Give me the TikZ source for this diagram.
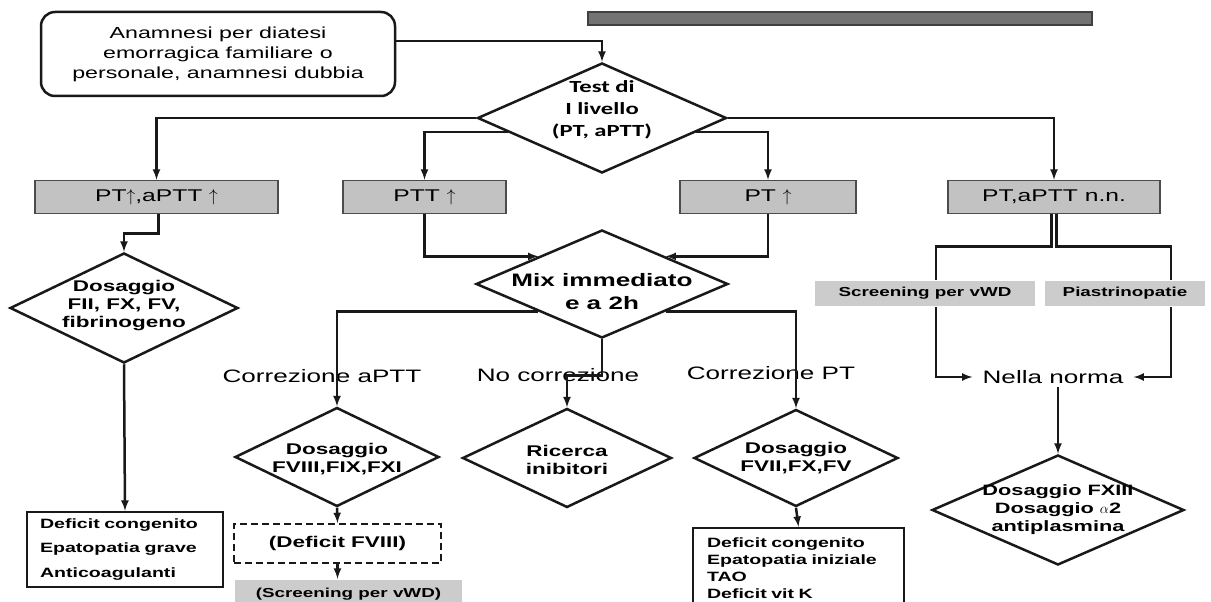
\documentclass[tikz,border=0pt]{standalone}
\usepackage{fontspec}
\setmainfont[FakeStretch=1.45]{Liberation Sans}
\newfontfamily\calfont[FakeStretch=1.45]{Carlito}
\usetikzlibrary{positioning,shapes.geometric,calc}

\begin{document}
\begin{tikzpicture}[x=1pt,y=-1pt,line width=2.5pt,draw=black!90,
  dia/.style={draw, shape=diamond, inner sep=0pt},
  dtxt/.style={font=\fontsize{15.5}{18}\selectfont\bfseries, align=center},
  gbox/.style={draw=black!70, fill=black!24, line width=1.5pt, inner sep=0pt, font=\fontsize{17}{20}\selectfont},
  lbox/.style={fill=black!20, inner sep=0pt, font=\fontsize{13}{15}\selectfont\bfseries},
  lab/.style={font=\fontsize{18}{20}\selectfont},
  res/.style={draw, align=left, font=\fontsize{13.5}{24.5}\selectfont\bfseries}]
	\useasboundingbox (0,0) rectangle (1211,602);
	\node[draw, rounded corners=14pt, align=center, minimum width=354pt, minimum height=84pt, font=\fontsize{16}{20}\selectfont] (anam) at (218,54) {Anamnesi per diatesi\\emorragica familiare o\\personale, anamnesi dubbia};
	\node[draw=black!75, fill=black!55, line width=1.5pt, minimum width=504pt, minimum height=13pt, inner sep=0pt] (bar) at (840,18.5) {};
	\node[dia, minimum width=249pt, minimum height=110pt, label={[dtxt, font=\fontsize{17}{22}\selectfont\calfont\bfseries, yshift=8pt]center:{Test di\\I livello\\(PT, aPTT)}}] (test) at (602,118) {};
	\node[gbox, minimum width=243pt, minimum height=33pt] (ptapt) at (156.5,197) {PT$\uparrow$,aPTT $\uparrow$};
	\node[gbox, minimum width=163pt, minimum height=33pt] (ptt) at (424.5,197) {PTT $\uparrow$};
	\node[gbox, minimum width=176pt, minimum height=33pt] (pt) at (768,197) {PT $\uparrow$};
	\node[gbox, minimum width=212pt, minimum height=33pt] (nn) at (1054,197) {PT,aPTT n.n.};
	\node[dia, minimum width=228pt, minimum height=110pt, label={[dtxt, yshift=2pt]center:{Dosaggio\\FII, FX, FV,\\fibrinogeno}}] (fii) at (124,308) {};
	\node[dia, minimum width=252pt, minimum height=108pt, label={[dtxt, font=\fontsize{18}{23}\selectfont\bfseries, yshift=-8pt]center:{Mix immediato\\e a 2h}}] (mix) at (602,284) {};
	\node[lab] (corrapt) at (322,376) {Correzione aPTT};
	\node[lab] (nocorr) at (558,375) {No correzione};
	\node[lab] (corrpt) at (771,373) {Correzione PT};
	\node[dia, minimum width=204pt, minimum height=99pt, label={[dtxt, yshift=-2pt]center:{Dosaggio\\FVIII,FIX,FXI}}] (fviii) at (337,457) {};
	\node[dia, minimum width=209pt, minimum height=99pt, label={[dtxt, yshift=-2pt]center:{Ricerca\\inibitori}}] (ric) at (567,458) {};
	\node[dia, minimum width=204pt, minimum height=97pt, label={[dtxt]center:{Dosaggio\\FVII,FX,FV}}] (fvii) at (796,458) {};
	\node[res, text width=170pt, inner xsep=13pt, minimum height=75pt] (def1) at (125,549.5) {Deficit congenito\\Epatopatia grave\\Anticoagulanti};
	\node[draw, line width=2pt, dash pattern=on 7pt off 4pt, minimum width=207pt, minimum height=39pt, font=\fontsize{15.5}{18}\selectfont\bfseries] (dfviii) at (337.5,543.5) {(Deficit FVIII)};
	\node[lbox, minimum width=227pt, minimum height=28pt] (scr2) at (348.5,594) {(Screening per vWD)};
	\node[res, text width=183pt, inner xsep=14pt, minimum height=80pt, font=\fontsize{13.5}{17}\selectfont\bfseries] (def2) at (798.5,568) {Deficit congenito\\Epatopatia iniziale\\TAO\\Deficit vit K};
	\node[lbox, minimum width=220pt, minimum height=25pt] (vwd) at (925,293.5) {Screening per vWD};
	\node[lbox, minimum width=160pt, minimum height=25pt] (plt) at (1125,293.5) {Piastrinopatie};
	\node[lab, inner xsep=9pt, inner ysep=2pt] (norma) at (1053,377) {Nella norma};
	\node[dia, minimum width=252pt, minimum height=110pt, label={[dtxt, font=\fontsize{15}{18}\selectfont\bfseries]center:{Dosaggio FXIII\\Dosaggio $\alpha$2\\antiplasmina}}] (fxiii) at (1058,510) {};
	\draw[-latex] ([yshift=13pt]anam.east) -| (test.north);
	\draw[-latex] (test.west) -| (ptapt.north);
	\draw[-latex] ($(test.west)!.25!(test.south)$) -| (ptt.north);
	\draw[-latex] (test.east) -| (nn.north);
	\draw[-latex] ($(test.east)!.25!(test.south)$) -| (pt.north);
	\draw[-latex] ([xshift=2pt]ptapt.south) -- ++(0,19) -| (fii.north);
	\draw[-latex] (fii.south) -- (def1.north);
	\draw[-latex] (ptt.south) |- (mix.north west);
	\draw[-latex] (pt.south) |- (mix.north east);
	\draw[-latex] (mix.south west) -| (fviii.north);
	\draw[-latex] (mix.south) -- ++(0,36) -| (ric.north);
	\draw[-latex] (mix.south east) -| (fvii.north);
	\draw[-latex] (fviii.south) -- (dfviii.north);
	\draw[-latex] (dfviii.south) -- (dfviii.south |- scr2.north);
	\draw[-latex] (fvii.south) -- (def2.north);
	\draw ([xshift=-2.5pt]nn.south) -- ++(0,32) -| ([xshift=11pt]vwd.north);
	\draw ([xshift=2.5pt]nn.south) -- ++(0,32) -| ([xshift=46pt]plt.north);
	\draw[-latex] ([xshift=11pt]vwd.south) |- (norma.west);
	\draw[-latex] ([xshift=46pt]plt.south) |- (norma.east);
	\draw[-latex] (norma.south -| fxiii.north) -- (fxiii.north);
\end{tikzpicture}
\end{document}
